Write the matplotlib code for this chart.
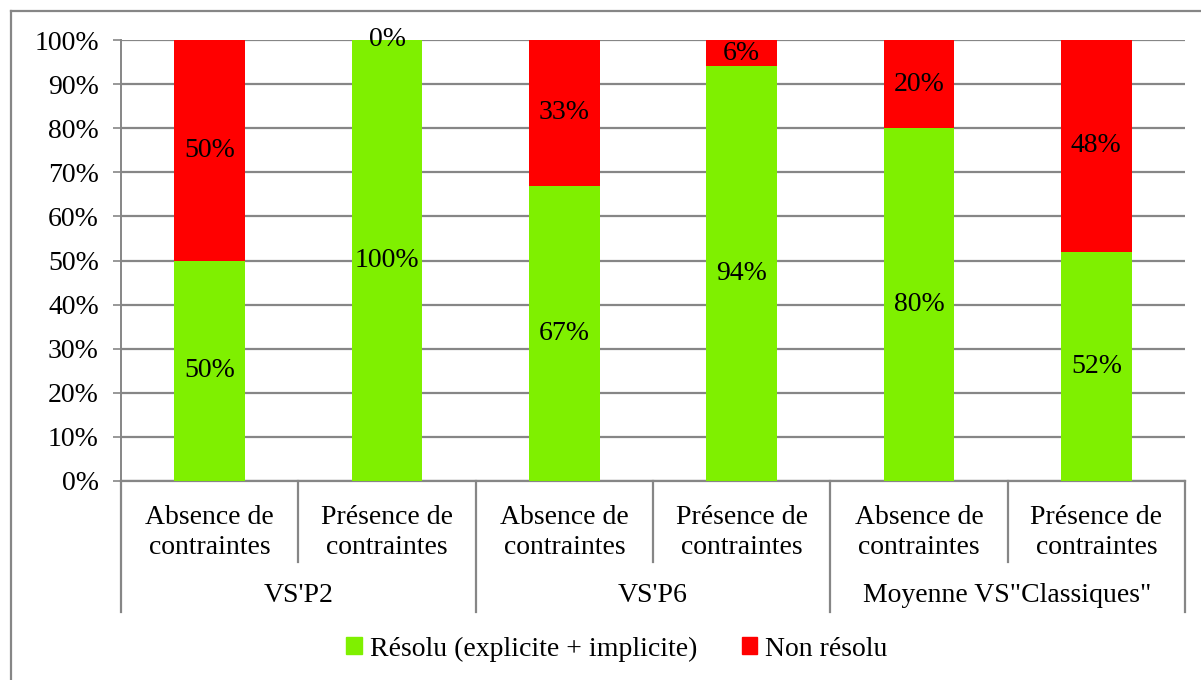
import matplotlib.pyplot as plt
from matplotlib.patches import Patch
import numpy as np

plt.rcParams['font.family'] = ['Liberation Serif', 'DejaVu Serif']

## données
categories = ['Absence de\ncontraintes', 'Présence de\ncontraintes'] * 3
groups = ["VS'P2", "VS'P6", 'Moyenne VS"Classiques"']
resolu = [50, 100, 67, 94, 80, 52]
non_resolu = [50, 0, 33, 6, 20, 48]
series_names = ['Résolu (explicite + implicite)', 'Non résolu']

vert = '#7ff000'
rouge = '#ff0000'
gris = '#868686'
fs = 20

fig = plt.figure(figsize=(12.01, 6.8), dpi=100)
W, H = 1201, 680
ax = fig.add_axes([121 / W, (H - 481) / H, (1185 - 121) / W, 441 / H])

index = np.arange(len(categories))
bw = 0.4
b1 = ax.bar(index, resolu, bw, color=vert, zorder=3)
b2 = ax.bar(index, non_resolu, bw, bottom=resolu, color=rouge, zorder=3)

# étiquettes des valeurs au centre de chaque segment
for i in index:
    ax.text(i, resolu[i] / 2, '%d%%' % resolu[i], ha='center', va='center',
            fontsize=fs, zorder=4)
    ax.text(i, resolu[i] + non_resolu[i] / 2, '%d%%' % non_resolu[i],
            ha='center', va='center', fontsize=fs, zorder=4)

ax.set_xlim(-0.5, len(categories) - 0.5)
ax.set_ylim(0, 100)
ax.set_yticks(np.arange(0, 101, 10))
ax.set_yticklabels(['%d%%' % v for v in range(0, 101, 10)])
ax.tick_params(axis='y', length=6, width=1.2, color=gris, pad=10, labelsize=fs)
ax.yaxis.grid(True, color=gris, linewidth=1.6, zorder=0)
for s in ['top', 'right']:
    ax.spines[s].set_visible(False)
ax.spines['left'].set_color(gris)
ax.spines['left'].set_linewidth(1.4)
ax.spines['bottom'].set_color(gris)
ax.spines['bottom'].set_linewidth(1.6)

ax.set_xticks(index)
ax.set_xticklabels(categories, fontsize=fs, linespacing=1.3)
ax.tick_params(axis='x', length=0, pad=17)

# séparateurs de l'axe des catégories
ah = 441.0
for k in range(len(categories) + 1):
    x = k - 0.5
    low = -131 / ah if k % 2 == 0 else -81 / ah
    ax.plot([x, x], [0, low], color=gris, linewidth=1.6, clip_on=False,
            transform=ax.get_xaxis_transform())
for g, name in enumerate(groups):
    ax.text(2 * g + 0.5, -114 / ah, name, ha='center', va='center',
            fontsize=fs, transform=ax.get_xaxis_transform())

# cadre extérieur (haut et gauche)
fig.add_artist(plt.Line2D([11 / W, 11 / W], [0, 1 - 11 / H], color=gris,
                          linewidth=1.6, transform=fig.transFigure))
fig.add_artist(plt.Line2D([11 / W, 1], [1 - 11 / H, 1 - 11 / H], color=gris,
                          linewidth=1.6, transform=fig.transFigure))

handles = [Patch(color=vert), Patch(color=rouge)]
fig.legend(handles, series_names, loc='center', bbox_to_anchor=(617 / W, 31 / H),
           ncol=2, frameon=False, fontsize=fs, handlelength=0.55,
           handleheight=0.55, handletextpad=0.3, columnspacing=1.6)

fig.savefig('out.png', dpi=100)
